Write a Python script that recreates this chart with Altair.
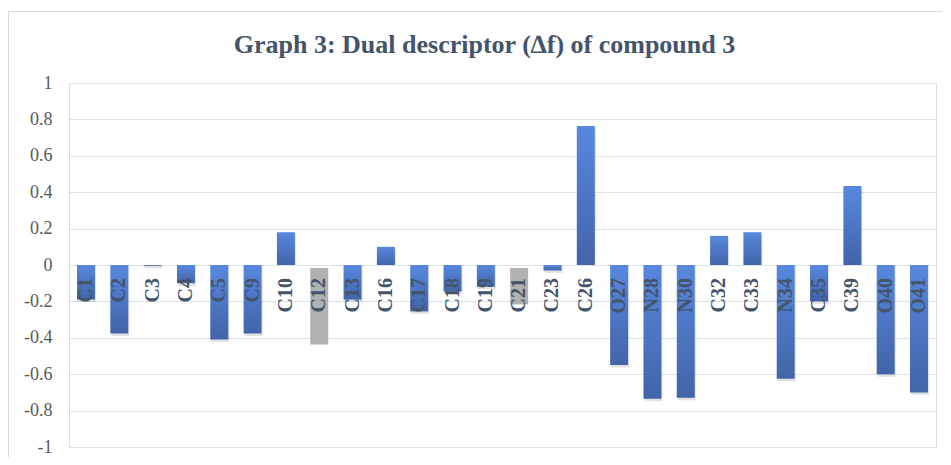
import altair as alt
import pandas as pd

categories = ["C1", "C2", "C3", "C4", "C5", "C9", "C10", "C12", "C13", "C16",
              "C17", "C18", "C19", "C21", "C23", "C26", "O27", "N28", "N30",
              "C32", "C33", "N34", "C35", "C39", "O40", "O41"]
values = [-0.19, -0.377, -0.005, -0.10, -0.41, -0.377, 0.18, -0.42, -0.19, 0.10,
          -0.255, -0.145, -0.12, -0.20, -0.03, 0.764, -0.55, -0.735, -0.73,
          0.16, 0.18, -0.625, -0.20, 0.434, -0.60, -0.70]
greyed = ["C12", "C21"]
y_ticks = [1, 0.8, 0.6, 0.4, 0.2, 0, -0.2, -0.4, -0.6, -0.8, -1]
title_text = "Graph 3: Dual descriptor (\u2206f) of compound 3"

df = pd.DataFrame({"atom": categories, "value": values})
title_df = pd.DataFrame({"t": [title_text]})

W, H = 867, 364
FONT = "Liberation Serif"

x_enc = alt.X("atom:N", sort=categories,
              scale=alt.Scale(paddingInner=0.46, paddingOuter=0.24),
              axis=None)
y_scale = alt.Scale(domain=[-1, 1], nice=False, zero=True)
y_enc = alt.Y("value:Q", scale=y_scale,
              axis=alt.Axis(values=y_ticks, tickCount=len(y_ticks) + 1,
                            title=None, domain=False, ticks=False,
                            labelFont=FONT, labelFontSize=18, labelColor="#595959",
                            labelPadding=17, gridColor="#dde1e8", gridWidth=1.2,
                            labelOverlap=False, labelFlush=False,
                            labelExpr="datum.value < 0 ? '-' + format(-datum.value, '.1~f') : format(datum.value, '.1~f')"))

base = alt.Chart(df)

frame = base.mark_rect(fill=None, stroke="#d6dbe2", strokeWidth=1.2).encode(
    x=alt.value(-60.5), x2=alt.value(W + 40), y=alt.value(-71.5), y2=alt.value(H + 60)
).transform_filter(alt.datum.atom == "C1")

title = alt.Chart(title_df).mark_text(
    font=FONT, fontSize=26, fontWeight="bold", color="#44546a",
    align="center", baseline="alphabetic"
).encode(text="t:N", x=alt.value(W / 2 - 18), y=alt.value(-30))

gradient = alt.Gradient(
    gradient="linear",
    stops=[alt.GradientStop(color="#5788df", offset=0),
           alt.GradientStop(color="#4264a8", offset=1)],
    x1=0, x2=0, y1=0, y2=1)

shadow = base.mark_bar(color="#7a7a7a", opacity=0.22, xOffset=1, yOffset=2.5).encode(
    x=x_enc, y=y_enc, y2=alt.datum(0)
).transform_filter(~alt.FieldOneOfPredicate(field="atom", oneOf=greyed))

bars = base.mark_bar(color=gradient).encode(
    x=x_enc, y=y_enc, y2=alt.datum(0)
).transform_filter(~alt.FieldOneOfPredicate(field="atom", oneOf=greyed))

grey_bars = base.mark_bar(color="#a8a8a8", opacity=0.9, yOffset=3, y2Offset=3).encode(
    x=x_enc, y=y_enc, y2=alt.datum(0)
).transform_filter(alt.FieldOneOfPredicate(field="atom", oneOf=greyed))

labels = base.mark_text(angle=270, align="right", baseline="middle", dx=-13,
                        font=FONT, fontSize=20, fontWeight="bold",
                        color="#44546a").encode(
    x=x_enc, y=alt.datum(0), text="atom:N"
)

chart = alt.layer(frame, title, shadow, bars, grey_bars, labels).properties(
    width=W, height=H,
    autosize=alt.AutoSizeParams(type="none"),
    padding={"left": 61, "top": 75, "right": 6, "bottom": 10},
).configure_view(stroke=None).configure(background="white")

chart.save("out.html", embed_options={"renderer": "svg", "actions": False})
